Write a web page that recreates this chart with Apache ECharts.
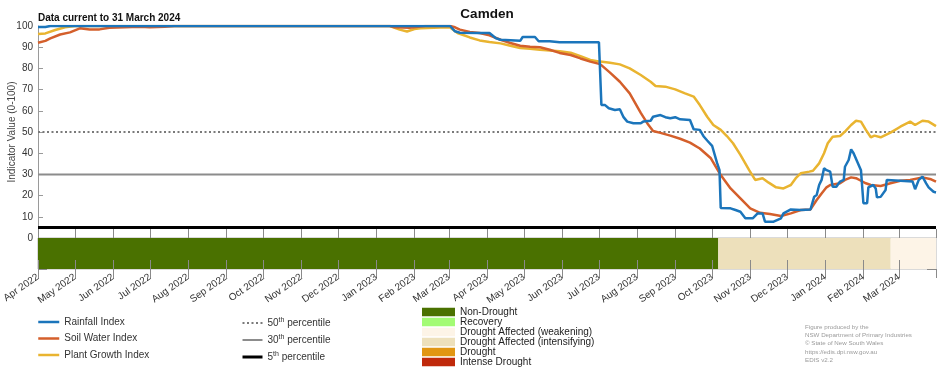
<!DOCTYPE html>
<html>
<head>
<meta charset="utf-8">
<script src="https://cdn.jsdelivr.net/npm/echarts@6/dist/echarts.min.js"></script>
<style>
html,body{margin:0;padding:0;background:#fff;}
#chart{width:952px;height:370px;}
</style>
</head>
<body>
<div id="chart"></div>
<script>
// ---------- DATA ----------
const chartTitle = 'Camden';
const currentNote = 'Data current to 31 March 2024';
const axisStart = '2022-04-01';
const axisEnd = '2024-03-31';
const monthNames = ['Jan','Feb','Mar','Apr','May','Jun','Jul','Aug','Sep','Oct','Nov','Dec'];
const yTicks = [0, 10, 20, 30, 40, 50, 60, 70, 80, 90, 100];

const rainfallIndex = [
  ['2022-04-01', 99.5], ['2022-04-07', 99.5], ['2022-04-11', 100], ['2023-03-02', 100],
  ['2023-03-06', 97.5], ['2023-03-10', 96.8], ['2023-03-26', 96.7], ['2023-04-03', 96.7],
  ['2023-04-08', 94.3], ['2023-04-12', 93.5], ['2023-04-28', 93], ['2023-04-30', 94.8],
  ['2023-05-10', 94.8], ['2023-05-13', 92.8], ['2023-05-22', 92.8], ['2023-05-30', 92.3],
  ['2023-07-01', 92.3], ['2023-07-03', 62.7], ['2023-07-06', 62.7], ['2023-07-09', 61.2],
  ['2023-07-14', 60.4], ['2023-07-18', 60.7], ['2023-07-21', 57], ['2023-07-24', 54.9],
  ['2023-07-29', 54.1], ['2023-08-04', 54.1], ['2023-08-06', 54.9], ['2023-08-12', 55.3],
  ['2023-08-14', 57.2], ['2023-08-20', 58], ['2023-08-24', 57], ['2023-08-28', 56.5],
  ['2023-09-01', 57], ['2023-09-05', 56], ['2023-09-13', 55.7], ['2023-09-16', 51.3],
  ['2023-09-21', 51], ['2023-09-24', 48], ['2023-09-27', 46], ['2023-10-01', 43.5],
  ['2023-10-05', 35.4], ['2023-10-07', 32], ['2023-10-08', 14.2], ['2023-10-16', 14],
  ['2023-10-20', 13.2], ['2023-10-24', 12.4], ['2023-10-28', 9.3], ['2023-11-03', 9.3],
  ['2023-11-07', 11.6], ['2023-11-11', 11.6], ['2023-11-13', 7.7], ['2023-11-20', 7.7],
  ['2023-11-26', 9.3], ['2023-11-28', 11.6], ['2023-12-04', 13.5], ['2023-12-12', 13.2],
  ['2023-12-20', 13.5], ['2023-12-23', 19.5], ['2023-12-25', 20.3], ['2023-12-27', 25],
  ['2023-12-29', 27.4], ['2023-12-31', 32.9], ['2024-01-02', 32], ['2024-01-05', 31.3],
  ['2024-01-07', 24.2], ['2024-01-10', 24.2], ['2024-01-13', 26.6], ['2024-01-16', 27.4],
  ['2024-01-17', 33.6], ['2024-01-20', 36.8], ['2024-01-22', 41.8], ['2024-01-24', 40],
  ['2024-01-27', 36], ['2024-01-30', 32], ['2024-01-31', 32], ['2024-02-01', 16.4],
  ['2024-02-04', 16.4], ['2024-02-05', 23.9], ['2024-02-09', 25], ['2024-02-11', 23.4],
  ['2024-02-12', 19.2], ['2024-02-15', 19.4], ['2024-02-19', 22.6], ['2024-02-20', 27.4],
  ['2024-03-02', 27], ['2024-03-12', 26.6], ['2024-03-14', 23], ['2024-03-17', 27.4],
  ['2024-03-20', 28.9], ['2024-03-23', 25.8], ['2024-03-25', 23.9], ['2024-03-29', 21.8],
  ['2024-03-31', 21.5]
];

const soilWaterIndex = [
  ['2022-04-01', 92.1], ['2022-04-07', 93], ['2022-04-11', 94.2], ['2022-04-19', 96],
  ['2022-04-27', 97], ['2022-05-05', 98.9], ['2022-05-13', 98.4], ['2022-05-21', 98.4],
  ['2022-05-29', 99.2], ['2022-06-23', 99.7], ['2022-07-01', 99.4], ['2022-07-13', 99.7],
  ['2022-07-21', 100], ['2023-01-12', 100], ['2023-01-16', 99.4], ['2023-01-28', 99.2],
  ['2023-02-10', 100], ['2023-03-02', 100], ['2023-03-06', 99.4], ['2023-03-10', 98.3],
  ['2023-03-18', 97.2], ['2023-03-26', 96.7], ['2023-04-03', 95.6], ['2023-04-12', 93.5],
  ['2023-04-20', 92], ['2023-04-28', 90.7], ['2023-05-06', 90.2], ['2023-05-14', 90],
  ['2023-05-22', 88.8], ['2023-05-30', 87.3], ['2023-06-08', 86.3], ['2023-06-16', 84.7],
  ['2023-06-24', 83.2], ['2023-07-02', 82], ['2023-07-10', 78], ['2023-07-18', 73.7],
  ['2023-07-26', 68.2], ['2023-08-04', 59], ['2023-08-10', 53.5], ['2023-08-14', 50.5],
  ['2023-08-20', 49.6], ['2023-08-28', 48.3], ['2023-09-05', 46.8], ['2023-09-13', 45],
  ['2023-09-21', 42.2], ['2023-09-30', 37.6], ['2023-10-08', 29.7], ['2023-10-16', 23.4],
  ['2023-10-24', 18.7], ['2023-11-01', 14], ['2023-11-09', 11.9], ['2023-11-17', 11.3],
  ['2023-11-26', 10.4], ['2023-12-04', 11.6], ['2023-12-12', 13.2], ['2023-12-20', 13.5],
  ['2023-12-25', 17.9], ['2023-12-29', 21], ['2024-01-02', 23.9], ['2024-01-05', 25],
  ['2024-01-13', 25.8], ['2024-01-17', 27.4], ['2024-01-22', 28.6], ['2024-01-26', 28.2],
  ['2024-01-30', 27], ['2024-02-03', 25.8], ['2024-02-07', 25], ['2024-02-15', 24.5],
  ['2024-02-23', 25.8], ['2024-03-02', 27], ['2024-03-10', 27.4], ['2024-03-20', 28.6],
  ['2024-03-27', 27.7], ['2024-03-31', 26.6]
];

const plantGrowthIndex = [
  ['2022-04-01', 96.2], ['2022-04-07', 96.5], ['2022-04-15', 98.1], ['2022-04-23', 99.4],
  ['2022-05-01', 100], ['2023-01-12', 100], ['2023-01-20', 98.3], ['2023-01-26', 97.4],
  ['2023-02-01', 98.6], ['2023-02-06', 98.9], ['2023-02-22', 99.3], ['2023-03-02', 99.3],
  ['2023-03-08', 96.7], ['2023-03-18', 94.6], ['2023-03-26', 93.2], ['2023-04-03', 92.5],
  ['2023-04-12', 91.8], ['2023-04-20', 90.7], ['2023-04-28', 89.6], ['2023-05-06', 89.3],
  ['2023-05-14', 88.8], ['2023-05-22', 88.4], ['2023-05-30', 88.1], ['2023-06-08', 87.4],
  ['2023-06-16', 85.8], ['2023-06-24', 84], ['2023-07-02', 83.2], ['2023-07-10', 82.7],
  ['2023-07-18', 81.9], ['2023-07-26', 80], ['2023-08-04', 76.9], ['2023-08-12', 73.7],
  ['2023-08-16', 71.7], ['2023-08-24', 71.4], ['2023-09-01', 70.1], ['2023-09-09', 68.2],
  ['2023-09-16', 66.7], ['2023-09-21', 62.7], ['2023-09-27', 57.2], ['2023-10-02', 53.3],
  ['2023-10-08', 51], ['2023-10-13', 48.1], ['2023-10-18', 44.7], ['2023-10-24', 39.2],
  ['2023-10-31', 32.1], ['2023-11-05', 27.4], ['2023-11-11', 28.2], ['2023-11-16', 26.1],
  ['2023-11-22', 23.9], ['2023-11-28', 23.4], ['2023-12-02', 24.5], ['2023-12-04', 25],
  ['2023-12-08', 28.2], ['2023-12-12', 30.5], ['2023-12-19', 31.3], ['2023-12-22', 31.7],
  ['2023-12-27', 35.2], ['2023-12-31', 40], ['2024-01-03', 44.7], ['2024-01-07', 47.8],
  ['2024-01-13', 48.1], ['2024-01-17', 50.2], ['2024-01-22', 53.3], ['2024-01-26', 55.3],
  ['2024-01-30', 54.9], ['2024-02-03', 51], ['2024-02-07', 47.5], ['2024-02-10', 48.3],
  ['2024-02-15', 47.5], ['2024-02-23', 49.7], ['2024-03-02', 52.5], ['2024-03-10', 54.9],
  ['2024-03-14', 53.3], ['2024-03-20', 55.3], ['2024-03-25', 54.9], ['2024-03-31', 52.8]
];

const percentileNames = ['50th percentile', '30th percentile', '5th percentile'];
const percentileValues = [50, 30, 5];

const droughtCategories = ['Non-Drought', 'Recovery', 'Drought Affected (weakening)',
  'Drought Affected (intensifying)', 'Drought', 'Intense Drought'];
const droughtStart = ['2022-04-01', '2023-10-06', '2024-02-23'];
const droughtEnd = ['2023-10-06', '2024-02-23', '2024-03-31'];
const droughtCategory = ['Non-Drought', 'Drought Affected (intensifying)', 'Drought Affected (weakening)'];

const footerLines = ['Figure produced by the', 'NSW Department of Primary Industries',
  '\u00A9 State of New South Wales', 'https://edis.dpi.nsw.gov.au', 'EDIS v2.2'];

// ---------- STYLE ----------
const indexColors = ['#1b75bb', '#d45f2b', '#e9b430'];
const percentileStyles = [
  { color: '#7a7a7a', width: 2, type: [2, 2.5] },
  { color: '#8c8c8c', width: 2, type: 'solid' },
  { color: '#000000', width: 3, type: 'solid' }
];
const droughtColors = ['#4a7100', '#a3fb74', '#fdf4e7', '#ede0bb', '#e19612', '#c0290b'];
const FONT = 'Liberation Sans, Arial, sans-serif';

const chart = echarts.init(document.getElementById('chart'), null, { renderer: 'canvas' });

const dayMs = 86400000;
const xTimeBase = {
  type: 'time', min: axisStart, max: axisEnd,
  splitNumber: 24, minInterval: 28 * dayMs, maxInterval: 31 * dayMs,
  splitLine: { show: false }
};

const series = [];
percentileNames.forEach((name, i) => {
  series.push({
    name: name, type: 'line', xAxisIndex: 0, yAxisIndex: 0, z: 1,
    symbol: 'none', silent: true,
    lineStyle: percentileStyles[i], itemStyle: { color: percentileStyles[i].color },
    data: [[axisStart, percentileValues[i]], [axisEnd, percentileValues[i]]]
  });
});
[['Rainfall Index', rainfallIndex], ['Soil Water Index', soilWaterIndex], ['Plant Growth Index', plantGrowthIndex]]
  .forEach((s, i) => {
    series.push({
      name: s[0], type: 'line', xAxisIndex: 0, yAxisIndex: 0, z: 3 + (2 - i),
      symbol: 'none', lineStyle: { color: indexColors[i], width: 2.5 },
      itemStyle: { color: indexColors[i] }, data: s[1]
    });
  });
droughtCategories.forEach((cat, ci) => {
  const rows = [];
  droughtCategory.forEach((c, k) => { if (c === cat) rows.push([droughtStart[k], droughtEnd[k]]); });
  series.push({
    name: cat, type: 'custom', xAxisIndex: 1, yAxisIndex: 1, z: 1,
    dimensions: [{ name: 'start', type: 'time' }, { name: 'end', type: 'time' }],
    encode: { x: [0, 1] },
    itemStyle: { color: droughtColors[ci] },
    renderItem: function (params, api) {
      const p0 = api.coord([api.value(0), 2]);
      const p1 = api.coord([api.value(1), 0]);
      return { type: 'rect', shape: { x: p0[0], y: p0[1], width: p1[0] - p0[0], height: p1[1] - p0[1] },
        style: { fill: droughtColors[ci] } };
    },
    data: rows
  });
});

const option = {
  animation: false,
  backgroundColor: '#ffffff',
  textStyle: { fontFamily: FONT },
  title: [
    { text: chartTitle, left: 487, top: 7, padding: 0, textAlign: 'center',
      textStyle: { fontSize: 13.5, fontWeight: 'bold', color: '#111', fontFamily: FONT } },
    { text: currentNote, left: 38, top: 13, padding: 0,
      textStyle: { fontSize: 10, fontWeight: 'bold', color: '#111', fontFamily: FONT } }
  ],
  grid: [
    { left: 38, right: 16, top: 26, height: 212, containLabel: false, outerBoundsMode: 'none' },
    { left: 38, right: 16, top: 238, height: 31, show: true, borderColor: '#b5b5b5', borderWidth: 1,
      containLabel: false, outerBoundsMode: 'none' }
  ],
  xAxis: [
    Object.assign({}, xTimeBase, { gridIndex: 0, z: 5,
      axisLine: { show: false }, axisLabel: { show: false },
      axisTick: { show: true, inside: true, length: 9, lineStyle: { color: '#8a8a8a' } } }),
    Object.assign({}, xTimeBase, { gridIndex: 1, z: 5, position: 'bottom',
      axisLine: { show: false },
      axisTick: { show: true, inside: true, length: 9, lineStyle: { color: '#8a8a8a' } },
      axisLabel: { show: true, rotate: 35, margin: 7, fontSize: 10, color: '#333', fontFamily: FONT,
        formatter: function (v) { const d = new Date(v); return monthNames[d.getMonth()] + ' ' + d.getFullYear(); } } }),
    Object.assign({}, xTimeBase, { gridIndex: 1, z: 5, position: 'top',
      axisLine: { show: false }, axisLabel: { show: false },
      axisTick: { show: true, inside: true, length: 9, lineStyle: { color: '#8a8a8a' } } })
  ],
  yAxis: [
    { type: 'value', gridIndex: 0, min: 0, max: 100, interval: 10,
      name: 'Indicator Value (0-100)', nameLocation: 'middle', nameGap: 21, nameMoveOverlap: false,
      nameTextStyle: { fontSize: 10, color: '#444', fontFamily: FONT },
      axisLine: { show: true, lineStyle: { color: '#9a9a9a', width: 1 } },
      axisTick: { show: true, inside: true, length: 5, lineStyle: { color: '#9a9a9a' } },
      axisLabel: { fontSize: 10, color: '#333', margin: 5, fontFamily: FONT,
        formatter: function (v) { return yTicks.indexOf(v) >= 0 ? String(v) : ''; } },
      splitLine: { show: false } },
    { type: 'value', gridIndex: 1, min: 0, max: 2, interval: 1,
      axisLine: { show: true, lineStyle: { color: '#9a9a9a' } },
      axisTick: { show: true, inside: true, length: 9, lineStyle: { color: '#8a8a8a' } },
      axisLabel: { show: false }, splitLine: { show: false } },
    { type: 'value', gridIndex: 1, min: 0, max: 2, interval: 1, position: 'right',
      axisLine: { show: false },
      axisTick: { show: true, inside: true, length: 9, lineStyle: { color: '#8a8a8a' } },
      axisLabel: { show: false }, splitLine: { show: false } }
  ],
  legend: [
    { data: ['Rainfall Index', 'Soil Water Index', 'Plant Growth Index'],
      orient: 'vertical', left: 37, top: 317, padding: 0, itemWidth: 21, itemHeight: 10, itemGap: 6.5,
      selectedMode: false, itemStyle: { opacity: 0 },
      lineStyle: { width: 2.5, opacity: 1 },
      textStyle: { fontSize: 10, color: '#333', fontFamily: FONT } },
    { data: percentileNames, orient: 'vertical', left: 241, top: 317, padding: 0, itemWidth: 20, itemHeight: 10,
      itemGap: 6, selectedMode: false, itemStyle: { opacity: 0 }, lineStyle: { width: 'inherit', opacity: 1 },
      formatter: function (n) { return n.replace(/^(\d+)th/, '$1{sup|th}'); },
      textStyle: { fontSize: 10, color: '#333', fontFamily: FONT,
        rich: { sup: { fontSize: 7, verticalAlign: 'top', padding: [0, 0, 5, 0], color: '#333', fontFamily: FONT } } } },
    { data: droughtCategories, orient: 'vertical', left: 422, top: 307, padding: 0, itemWidth: 33, itemHeight: 8.5,
      itemGap: 0, icon: 'rect', selectedMode: false, itemStyle: { borderWidth: 0 },
      textStyle: { fontSize: 10, color: '#222', lineHeight: 9.7, fontFamily: FONT } }
  ],
  graphic: [
    { type: 'text', left: 805, top: 323, silent: true,
      style: { text: footerLines.join('\n'), fontSize: 6.2, lineHeight: 8.3, fill: '#9a9a9a', fontFamily: FONT } }
  ],
  series: series
};
chart.setOption(option);
</script>
</body>
</html>
